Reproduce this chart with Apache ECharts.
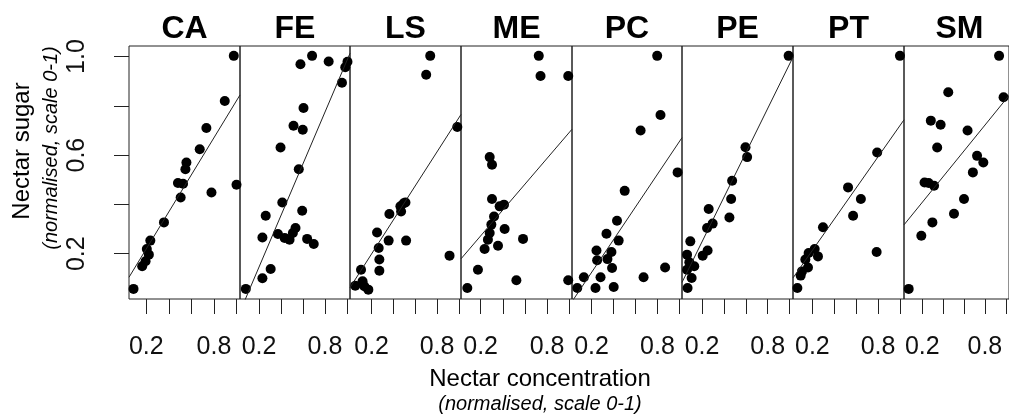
<!DOCTYPE html>
<html>
<head>
<meta charset="utf-8">
<style>
  html, body { margin: 0; padding: 0; background: #fff; }
  #chart { width: 1009px; height: 414px; }
</style>
</head>
<body>
<div id="chart"></div>
<script src="https://cdn.jsdelivr.net/npm/echarts@6/dist/echarts.min.js"></script>
<script>
// site codes, one panel each
const sites = ['CA', 'FE', 'LS', 'ME', 'PC', 'PE', 'PT', 'SM'];

// normalised nectar concentration (x) and sugar (y) per site
const caX = [0.976, 0.896, 0.733, 0.674, 0.556, 0.547, 0.481, 0.526, 0.505, 0.778, 1.0, 0.357, 0.236, 0.205, 0.223, 0.194, 0.164, 0.087];
const caY = [1.003, 0.820, 0.710, 0.624, 0.570, 0.543, 0.487, 0.484, 0.428, 0.448, 0.480, 0.327, 0.253, 0.219, 0.196, 0.169, 0.149, 0.057];
const feX = [0.683, 0.577, 0.834, 1.005, 0.985, 0.955, 0.605, 0.514, 0.598, 0.396, 0.562, 0.412, 0.261, 0.593, 0.231, 0.372, 0.433, 0.478, 0.532, 0.508, 0.638, 0.698, 0.306, 0.231, 0.080];
const feY = [1.003, 0.969, 0.980, 0.979, 0.957, 0.894, 0.791, 0.719, 0.703, 0.631, 0.543, 0.408, 0.354, 0.374, 0.266, 0.280, 0.264, 0.257, 0.304, 0.284, 0.260, 0.239, 0.138, 0.100, 0.057];
const lsX = [0.737, 0.700, 0.985, 0.510, 0.494, 0.464, 0.470, 0.363, 0.250, 0.356, 0.516, 0.265, 0.271, 0.271, 0.914, 0.103, 0.050, 0.117, 0.133, 0.170];
const lsY = [1.003, 0.926, 0.714, 0.408, 0.405, 0.392, 0.371, 0.361, 0.286, 0.253, 0.253, 0.223, 0.176, 0.131, 0.192, 0.135, 0.070, 0.088, 0.068, 0.054];
const meX = [0.725, 0.741, 0.991, 0.282, 0.303, 0.303, 0.372, 0.411, 0.321, 0.297, 0.417, 0.282, 0.266, 0.357, 0.236, 0.583, 0.176, 0.523, 0.080, 0.991];
const meY = [1.003, 0.921, 0.921, 0.592, 0.561, 0.422, 0.392, 0.399, 0.351, 0.318, 0.300, 0.284, 0.257, 0.232, 0.219, 0.260, 0.135, 0.092, 0.061, 0.092];
const pcX = [0.798, 0.828, 0.647, 0.984, 0.502, 0.432, 0.336, 0.447, 0.245, 0.381, 0.251, 0.345, 0.387, 0.870, 0.130, 0.282, 0.674, 0.070, 0.236, 0.402];
const pcY = [1.003, 0.763, 0.700, 0.530, 0.455, 0.334, 0.281, 0.253, 0.213, 0.207, 0.173, 0.178, 0.142, 0.144, 0.104, 0.104, 0.104, 0.061, 0.061, 0.065];
const peX = [0.991, 0.597, 0.612, 0.475, 0.466, 0.450, 0.261, 0.297, 0.246, 0.093, 0.251, 0.206, 0.063, 0.129, 0.084, 0.063, 0.105, 0.068];
const peY = [1.003, 0.632, 0.592, 0.496, 0.422, 0.347, 0.381, 0.322, 0.304, 0.250, 0.213, 0.192, 0.196, 0.149, 0.165, 0.135, 0.101, 0.061];
const ptX = [1.0, 0.792, 0.526, 0.643, 0.572, 0.297, 0.787, 0.221, 0.251, 0.166, 0.136, 0.160, 0.105, 0.093, 0.063];
const ptY = [1.003, 0.611, 0.469, 0.422, 0.354, 0.307, 0.207, 0.219, 0.189, 0.203, 0.176, 0.144, 0.128, 0.111, 0.061];
const smX = [0.936, 0.979, 0.449, 0.282, 0.376, 0.634, 0.343, 0.725, 0.785, 0.685, 0.222, 0.261, 0.313, 0.600, 0.504, 0.297, 0.191, 0.070];
const smY = [1.003, 0.835, 0.855, 0.740, 0.723, 0.700, 0.631, 0.597, 0.570, 0.530, 0.489, 0.487, 0.476, 0.422, 0.362, 0.327, 0.273, 0.057];

// fitted line per site: sugar = intercept + slope * concentration
const fitIntercept = [0.069, -0.064, 0.061, 0.167, -0.009, 0.068, 0.087, 0.304];
const fitSlope = [0.752, 1.048, 0.691, 0.525, 0.664, 0.902, 0.633, 0.522];

// axis ranges and ticks
const xMin = [0.047, 0.027, 0.002, 0.023, 0.022, 0.017, 0.023, 0.025];
const xMax = [1.031, 1.028, 1.019, 1.025, 1.024, 1.031, 1.037, 1.031];
const yMin = 0.016;
const yMax = 1.043;
const xTicks = [0.2, 0.4, 0.6, 0.8, 1.0];
const xTickLabels = [0.2, 0.8];
const yTicks = [0.2, 0.4, 0.6, 0.8, 1.0];
const yTickLabels = [0.2, 0.6, 1.0];

const allX = [caX, feX, lsX, meX, pcX, peX, ptX, smX];
const allY = [caY, feY, lsY, meY, pcY, peY, ptY, smY];

const FONT = '"Liberation Sans", Arial, sans-serif';
const LINE = '#222';
const panelLeft = [129, 240, 350, 461, 572, 682, 793, 904];
const panelTop = 46;
const panelHeight = 253;
const panelWidth = panelLeft.map((l, i) => (i < panelLeft.length - 1 ? panelLeft[i + 1] - l : 111));

const chart = echarts.init(document.getElementById('chart'));

const grid = [];
const xAxis = [];
const yAxis = [];
const series = [];
const graphic = [];

sites.forEach((site, i) => {
  grid.push({
    left: panelLeft[i],
    top: panelTop,
    width: panelWidth[i],
    height: panelHeight,
    show: true,
    borderColor: LINE,
    borderWidth: 1,
    backgroundColor: 'transparent'
  });
  xAxis.push({
    gridIndex: i,
    type: 'value',
    min: xMin[i],
    max: xMax[i],
    axisLine: { show: false },
    splitLine: { show: false },
    axisTick: {
      show: true,
      inside: false,
      length: 15,
      customValues: xTicks,
      lineStyle: { color: LINE, width: 1 }
    },
    axisLabel: {
      show: true,
      customValues: xTickLabels,
      margin: 36,
      fontSize: 25,
      fontFamily: FONT,
      color: '#111',
      formatter: v => v.toFixed(1)
    }
  });
  yAxis.push({
    gridIndex: i,
    type: 'value',
    min: yMin,
    max: yMax,
    axisLine: { show: false },
    splitLine: { show: false },
    axisTick: {
      show: i === 0,
      inside: false,
      length: 15,
      customValues: yTicks,
      lineStyle: { color: LINE, width: 1 }
    },
    axisLabel: {
      show: i === 0,
      customValues: yTickLabels,
      rotate: 90,
      margin: 39,
      fontSize: 25,
      fontFamily: FONT,
      color: '#111',
      formatter: v => v.toFixed(1)
    }
  });
  series.push({
    type: 'scatter',
    xAxisIndex: i,
    yAxisIndex: i,
    symbol: 'circle',
    symbolSize: 10,
    itemStyle: { color: '#000', opacity: 1 },
    clip: true,
    silent: true,
    data: allX[i].map((x, k) => [x, allY[i][k]])
  });
  // fitted line spans the whole panel
  series.push({
    type: 'line',
    xAxisIndex: i,
    yAxisIndex: i,
    symbol: 'none',
    clip: true,
    silent: true,
    lineStyle: { color: '#222', width: 1 },
    data: [xMin[i], xMax[i]].map(x => [x, fitIntercept[i] + fitSlope[i] * x])
  });
  graphic.push({
    type: 'text',
    x: panelLeft[i] + panelWidth[i] / 2,
    y: 29,
    style: {
      text: site,
      font: 'bold 32px ' + FONT,
      fill: '#000',
      textAlign: 'center',
      align: 'center',
      textVerticalAlign: 'middle',
      verticalAlign: 'middle'
    }
  });
});

function axisTitle(text, x, y, font, rotation) {
  return {
    type: 'text',
    x: x,
    y: y,
    rotation: rotation,
    style: {
      text: text,
      font: font,
      fill: '#000',
      textAlign: 'center',
      align: 'center',
      textVerticalAlign: 'middle',
      verticalAlign: 'middle'
    }
  };
}

graphic.push(axisTitle('Nectar sugar', 22, 151, '24px ' + FONT, Math.PI / 2));
graphic.push(axisTitle('(normalised, scale 0-1)', 51, 148, 'italic 20px ' + FONT, Math.PI / 2));
graphic.push(axisTitle('Nectar concentration', 540, 379, '24px ' + FONT, 0));
graphic.push(axisTitle('(normalised, scale 0-1)', 540, 404, 'italic 20px ' + FONT, 0));

chart.setOption({
  animation: false,
  backgroundColor: '#fff',
  grid: grid,
  xAxis: xAxis,
  yAxis: yAxis,
  series: series,
  graphic: graphic
});
</script>
</body>
</html>
